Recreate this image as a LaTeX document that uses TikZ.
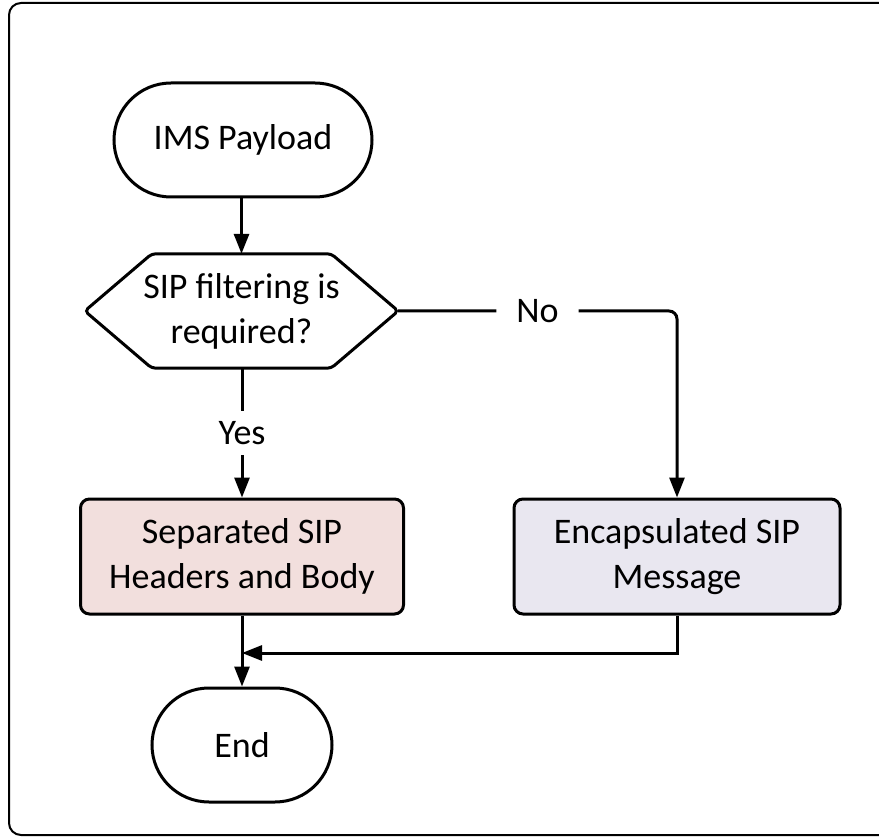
\documentclass[tikz,border=0pt]{standalone}
\usepackage{fontspec}
\setmainfont{Carlito}
\usetikzlibrary{arrows.meta}
\definecolor{pinkfill}{HTML}{F2DFDD}
\definecolor{lavfill}{HTML}{E9E7F0}
\begin{document}
\begin{tikzpicture}[x=1pt,y=-1pt,
  every node/.style={font=\fontsize{36}{45}\selectfont},
  term/.style={draw, line width=3pt, rounded corners=57pt, minimum height=114pt, align=center},
  procbox/.style={draw, line width=3pt, rounded corners=9pt, minimum height=115pt, align=center},
  conn/.style={line width=3pt, -{Triangle[length=20pt,width=15pt]}},
  lbl/.style={fill=white, inner xsep=20pt, inner ysep=10pt}
]
\clip (0,0) rectangle (879,837);
\draw[line width=2pt, rounded corners=12pt] (9,3) rectangle (910,835);

\node[term, minimum width=258pt] (start) at (243,140) {IMS Payload};

\node[minimum width=313pt, minimum height=114pt, inner sep=0pt, align=center] (dec) at (241.5,311) {SIP filtering is\\required?};
\draw[line width=3pt, rounded corners=4pt] (dec.west) -- ([xshift=67pt]dec.north west) -- ([xshift=-67pt]dec.north east) -- (dec.east) -- ([xshift=-67pt]dec.south east) -- ([xshift=67pt]dec.south west) -- cycle;

\node[procbox, fill=pinkfill, minimum width=323pt] (sep) at (242,556.5) {Separated SIP\\Headers and Body};
\node[procbox, fill=lavfill, minimum width=326pt] (enc) at (677,556.5) {Encapsulated SIP\\Message};

\node[term, minimum width=180pt] (end) at (242,745) {End};

\coordinate (j) at (242,653);

\draw[conn] (start.south -| dec.north) -- (dec.north);
\draw[conn] (dec.south -| sep.north) -- node[lbl] {Yes} (sep.north);
\draw[conn, rounded corners=8pt] (dec.east) -- node[lbl] {No} (enc.north |- dec.east) -- (enc.north);
\draw[conn] (sep.south) -- (end.north);
\draw[conn] (enc.south) |- (j);
\end{tikzpicture}
\end{document}
